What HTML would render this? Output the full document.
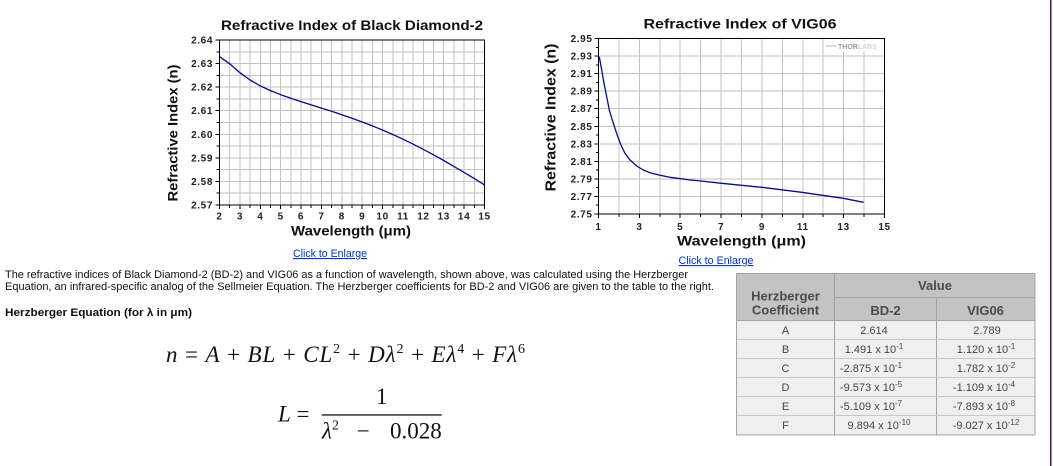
<!DOCTYPE html>
<html><head><meta charset="utf-8"><style>
html,body{margin:0;padding:0;background:#fff;}
svg{display:block;}
</style></head><body>
<svg width="1053" height="466" viewBox="0 0 1053 466" xmlns="http://www.w3.org/2000/svg">
<rect x="0" y="0" width="1053" height="466" fill="#fff"/>

<!-- ===== LEFT CHART ===== -->
<g shape-rendering="crispEdges" stroke="#c2c2c2" stroke-width="1">
<path d="M229.7 40V205M239.9 40V205M250.1 40V205M260.3 40V205M270.5 40V205M280.7 40V205M290.9 40V205M301 40V205M311.2 40V205M321.4 40V205M331.6 40V205M341.8 40V205M352 40V205M362.2 40V205M372.4 40V205M382.6 40V205M392.8 40V205M403 40V205M413.2 40V205M423.4 40V205M433.5 40V205M443.7 40V205M453.9 40V205M464.1 40V205M474.3 40V205"/>
<path d="M219.5 51.8H484.5M219.5 63.6H484.5M219.5 75.4H484.5M219.5 87.1H484.5M219.5 98.9H484.5M219.5 110.7H484.5M219.5 122.5H484.5M219.5 134.3H484.5M219.5 146.1H484.5M219.5 157.9H484.5M219.5 169.6H484.5M219.5 181.4H484.5M219.5 193.2H484.5"/>
</g>
<g shape-rendering="crispEdges" stroke="#000" stroke-width="1" fill="none">
<rect x="219.5" y="40" width="265" height="165"/>
<path d="M215.5 40H219.5M216.5 51.8H219.5M215.5 63.6H219.5M216.5 75.4H219.5M215.5 87.1H219.5M216.5 98.9H219.5M215.5 110.7H219.5M216.5 122.5H219.5M215.5 134.3H219.5M216.5 146.1H219.5M215.5 157.9H219.5M216.5 169.6H219.5M215.5 181.4H219.5M216.5 193.2H219.5M215.5 205H219.5"/>
<path d="M219.5 205v4M229.7 205v3M239.9 205v4M250.1 205v3M260.3 205v4M270.5 205v3M280.7 205v4M290.9 205v3M301 205v4M311.2 205v3M321.4 205v4M331.6 205v3M341.8 205v4M352 205v3M362.2 205v4M372.4 205v3M382.6 205v4M392.8 205v3M403 205v4M413.2 205v3M423.4 205v4M433.5 205v3M443.7 205v4M453.9 205v3M464.1 205v4M474.3 205v3M484.5 205v4"/>
</g>
<polyline fill="none" stroke="#0a0a8c" stroke-width="1.3" stroke-linejoin="round" points="219.5,56.7 229.7,63.8 239.9,72.7 250.1,80 260.3,85.9 270.5,90.6 280.7,94.7 290.9,98.3 301,101.6 311.2,104.9 321.4,108.1 331.6,111.3 341.8,114.7 352,118.3 362.2,122 372.4,125.9 382.6,130.1 392.8,134.5 403,139.2 413.2,144.2 423.4,149.4 433.5,154.8 443.7,160.5 453.9,166.4 464.1,172.4 474.3,178.6 484.5,184.9"/>
<g font-family="Liberation Sans, Arial, sans-serif" font-size="10" font-weight="bold" fill="#222" letter-spacing="0.6">
<g text-anchor="end">
<text x="213" y="43.5">2.64</text><text x="213" y="67">2.63</text><text x="213" y="90.6">2.62</text><text x="213" y="114.2">2.61</text><text x="213" y="137.8">2.60</text><text x="213" y="161.4">2.59</text><text x="213" y="184.9">2.58</text><text x="213" y="208.5">2.57</text>
</g>
<g text-anchor="middle">
<text x="219.5" y="219.5">2</text><text x="239.9" y="219.5">3</text><text x="260.3" y="219.5">4</text><text x="280.7" y="219.5">5</text><text x="301" y="219.5">6</text><text x="321.4" y="219.5">7</text><text x="341.8" y="219.5">8</text><text x="362.2" y="219.5">9</text><text x="382.6" y="219.5">10</text><text x="403" y="219.5">11</text><text x="423.4" y="219.5">12</text><text x="443.7" y="219.5">13</text><text x="464.1" y="219.5">14</text><text x="484.5" y="219.5">15</text>
</g>
</g>
<g font-family="Liberation Sans, Arial, sans-serif" font-weight="bold" fill="#111">
<text x="221" y="30" font-size="14" textLength="262" lengthAdjust="spacingAndGlyphs">Refractive Index of Black Diamond-2</text>
<text x="291" y="235.5" font-size="13.5" textLength="120" lengthAdjust="spacingAndGlyphs">Wavelength (μm)</text>
<text transform="translate(177.5,201.5) rotate(-90)" x="0" y="0" font-size="14" textLength="137" lengthAdjust="spacingAndGlyphs">Refractive Index (n)</text>
</g>
<text x="293" y="257" font-family="Liberation Sans, Arial, sans-serif" font-size="11" fill="#0033cc" text-decoration="underline" textLength="74" lengthAdjust="spacingAndGlyphs">Click to Enlarge</text>

<!-- ===== RIGHT CHART ===== -->
<g shape-rendering="crispEdges" stroke="#c2c2c2" stroke-width="1">
<path d="M618.9 38.5V214M639.4 38.5V214M659.8 38.5V214M680.2 38.5V214M700.6 38.5V214M721.1 38.5V214M741.5 38.5V214M761.9 38.5V214M782.4 38.5V214M802.8 38.5V214M823.2 38.5V214M843.6 38.5V214M864.1 38.5V214"/>
<path d="M598.5 56.1H884.5M598.5 73.6H884.5M598.5 91.2H884.5M598.5 108.7H884.5M598.5 126.3H884.5M598.5 143.8H884.5M598.5 161.4H884.5M598.5 178.9H884.5M598.5 196.5H884.5"/>
</g>
<rect x="829" y="41" width="53" height="10" fill="#fff"/>
<line x1="826" y1="46" x2="837" y2="46" stroke="#bbb" stroke-width="1"/>
<text x="838" y="49" font-family="Liberation Sans, Arial, sans-serif" font-size="7" font-weight="bold" fill="#9a9a9a">THOR<tspan fill="#d6d6d6">LABS</tspan></text>
<g shape-rendering="crispEdges" stroke="#000" stroke-width="1" fill="none">
<rect x="598.5" y="38.5" width="286" height="175.5"/>
<path d="M594.5 38.5H598.5M596 47.3H598.5M594.5 56.1H598.5M596 64.8H598.5M594.5 73.6H598.5M596 82.4H598.5M594.5 91.2H598.5M596 99.9H598.5M594.5 108.7H598.5M596 117.5H598.5M594.5 126.3H598.5M596 135H598.5M594.5 143.8H598.5M596 152.6H598.5M594.5 161.4H598.5M596 170.1H598.5M594.5 178.9H598.5M596 187.7H598.5M594.5 196.5H598.5M596 205.2H598.5M594.5 214H598.5"/>
<path d="M598.5 214v4M618.9 214v3M639.4 214v4M659.8 214v3M680.2 214v4M700.6 214v3M721.1 214v4M741.5 214v3M761.9 214v4M782.4 214v3M802.8 214v4M823.2 214v3M843.6 214v4M864.1 214v3M884.5 214v4"/>
</g>
<polyline fill="none" stroke="#0a0a8c" stroke-width="1.3" stroke-linejoin="round" points="599.3,56.7 601.7,70 604,83.3 606.7,96.7 609.3,110 612.3,120 615,128.3 618.3,138.3 621.7,146.7 625,153.3 630,160 636.7,166 643.3,170 650,172.7 660,175.3 670,177.3 680.7,178.7 690,180 701,181 721.7,183.3 761.7,187.3 801.7,192.3 843.3,198.3 863.5,202.3"/>
<g font-family="Liberation Sans, Arial, sans-serif" font-size="10" font-weight="bold" fill="#222" letter-spacing="0.6">
<g text-anchor="end">
<text x="592.5" y="42">2.95</text><text x="592.5" y="59.6">2.93</text><text x="592.5" y="77.1">2.91</text><text x="592.5" y="94.7">2.89</text><text x="592.5" y="112.2">2.87</text><text x="592.5" y="129.8">2.85</text><text x="592.5" y="147.3">2.83</text><text x="592.5" y="164.9">2.81</text><text x="592.5" y="182.4">2.79</text><text x="592.5" y="200">2.77</text><text x="592.5" y="217.5">2.75</text>
</g>
<g text-anchor="middle">
<text x="598.5" y="230">1</text><text x="639.4" y="230">3</text><text x="680.2" y="230">5</text><text x="721.1" y="230">7</text><text x="761.9" y="230">9</text><text x="802.8" y="230">11</text><text x="843.6" y="230">13</text><text x="884.5" y="230">15</text>
</g>
</g>
<g font-family="Liberation Sans, Arial, sans-serif" font-weight="bold" fill="#111">
<text x="643.5" y="28.3" font-size="14" textLength="193" lengthAdjust="spacingAndGlyphs">Refractive Index of VIG06</text>
<text x="677" y="245.5" font-size="14" textLength="129" lengthAdjust="spacingAndGlyphs">Wavelength (μm)</text>
<text transform="translate(555.5,191.5) rotate(-90)" x="0" y="0" font-size="15" textLength="148" lengthAdjust="spacingAndGlyphs">Refractive Index (n)</text>
</g>
<text x="678.5" y="264" font-family="Liberation Sans, Arial, sans-serif" font-size="11" fill="#0033cc" text-decoration="underline" textLength="75" lengthAdjust="spacingAndGlyphs">Click to Enlarge</text>

<!-- ===== PARAGRAPH ===== -->
<g font-family="Liberation Sans, Arial, sans-serif" font-size="11" fill="#111">
<text x="5" y="278" textLength="683" lengthAdjust="spacingAndGlyphs">The refractive indices of Black Diamond-2 (BD-2) and VIG06 as a function of wavelength, shown above, was calculated using the Herzberger</text>
<text x="5" y="290" textLength="709" lengthAdjust="spacingAndGlyphs">Equation, an infrared-specific analog of the Sellmeier Equation. The Herzberger coefficients for BD-2 and VIG06 are given to the table to the right.</text>
<text x="5" y="316" font-weight="bold" textLength="187" lengthAdjust="spacingAndGlyphs">Herzberger Equation (for λ in μm)</text>
</g>

<!-- ===== EQUATIONS ===== -->
<g font-family="Liberation Serif, DejaVu Serif, serif" fill="#111">
<text x="166" y="362" font-size="23" textLength="359" lengthAdjust="spacing"><tspan font-style="italic">n</tspan> = <tspan font-style="italic">A</tspan> + <tspan font-style="italic">BL</tspan> + <tspan font-style="italic">CL</tspan><tspan font-size="14" dy="-9">2</tspan><tspan dy="9"> + </tspan><tspan font-style="italic">Dλ</tspan><tspan font-size="14" dy="-9">2</tspan><tspan dy="9"> + </tspan><tspan font-style="italic">Eλ</tspan><tspan font-size="14" dy="-9">4</tspan><tspan dy="9"> + </tspan><tspan font-style="italic">Fλ</tspan><tspan font-size="14" dy="-9">6</tspan></text>
<text x="278" y="421.5" font-size="23"><tspan font-style="italic">L</tspan> =</text>
<text x="381.7" y="404" font-size="23" text-anchor="middle">1</text>
<rect x="321.7" y="414.3" width="120" height="1.3" fill="#111"/>
<text x="322" y="438.3" font-size="23"><tspan font-style="italic">λ</tspan><tspan font-size="14" dy="-9">2</tspan></text>
<text x="363.3" y="438.3" font-size="23" text-anchor="middle">−</text>
<text x="441.7" y="438.3" font-size="23" text-anchor="end">0.028</text>
</g>

<!-- ===== TABLE ===== -->
<g shape-rendering="crispEdges">
<rect x="736.5" y="273.5" width="298.5" height="47" fill="#c3c3c3"/>
<rect x="736.5" y="320.5" width="298.5" height="114.5" fill="#efefef"/>
<g stroke="#a3a3a3" stroke-width="1" fill="none">
<rect x="736.5" y="273.5" width="298.5" height="161.5"/>
<path d="M834.5 273.5V435M936.5 297.5V435M834.5 297.5H1035M736.5 320.5H1035"/>
</g>
<g stroke="#c8c8c8" stroke-width="1">
<path d="M737 339.5H1034.5M737 358.5H1034.5M737 377.5H1034.5M737 396.5H1034.5M737 415.5H1034.5"/>
</g>
</g>
<g font-family="Liberation Sans, Arial, sans-serif" font-weight="bold" fill="#4a4a4a" font-size="13" text-anchor="middle">
<text x="785.5" y="300.5">Herzberger</text>
<text x="785.5" y="314.5">Coefficient</text>
<text x="935" y="290">Value</text>
<text x="885.5" y="315">BD-2</text>
<text x="985.5" y="315">VIG06</text>
</g>
<g font-family="Liberation Sans, Arial, sans-serif" fill="#444" font-size="11" text-anchor="middle">
<text x="785.5" y="334">A</text>
<text x="785.5" y="353">B</text>
<text x="785.5" y="372">C</text>
<text x="785.5" y="391">D</text>
<text x="785.5" y="410">E</text>
<text x="785.5" y="429">F</text>
<text x="874" y="334">2.614</text>
<text x="874" y="353">1.491 x 10<tspan font-size="8" dy="-4">-1</tspan></text>
<text x="871" y="372">-2.875 x 10<tspan font-size="8" dy="-4">-1</tspan></text>
<text x="871" y="391">-9.573 x 10<tspan font-size="8" dy="-4">-5</tspan></text>
<text x="871" y="410">-5.109 x 10<tspan font-size="8" dy="-4">-7</tspan></text>
<text x="879" y="429">9.894 x 10<tspan font-size="8" dy="-4">-10</tspan></text>
<text x="987" y="334">2.789</text>
<text x="986" y="353">1.120 x 10<tspan font-size="8" dy="-4">-1</tspan></text>
<text x="986" y="372">1.782 x 10<tspan font-size="8" dy="-4">-2</tspan></text>
<text x="984" y="391">-1.109 x 10<tspan font-size="8" dy="-4">-4</tspan></text>
<text x="984" y="410">-7.893 x 10<tspan font-size="8" dy="-4">-8</tspan></text>
<text x="986" y="429">-9.027 x 10<tspan font-size="8" dy="-4">-12</tspan></text>
</g>

<!-- right edge border -->
<rect x="1050" y="0" width="1.5" height="466" fill="#5e1426"/>
</svg>
</body></html>
